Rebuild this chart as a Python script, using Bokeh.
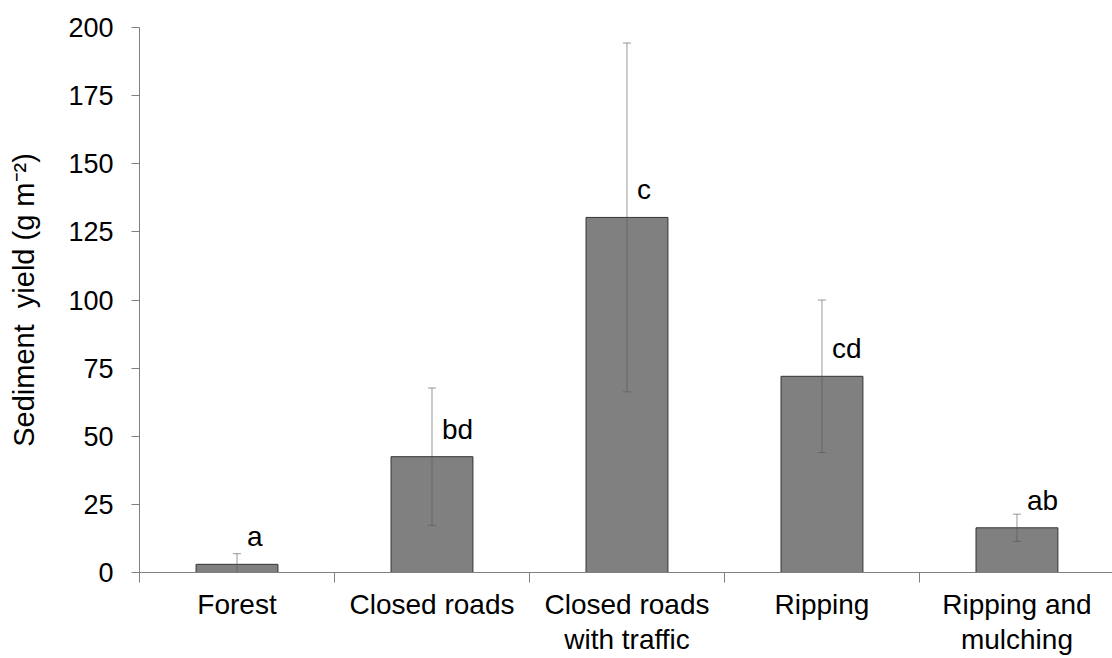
from bokeh.plotting import figure
from bokeh.models import (ColumnDataSource, FixedTicker, Whisker, TeeHead, Range1d)
from bokeh.core.properties import value
from bokeh.embed import file_html
from bokeh.resources import INLINE

categories = ["Forest", "Closed roads", "Closed roads\nwith traffic", "Ripping", "Ripping and\nmulching"]
means = [3.0, 42.5, 130.3, 72.0, 16.4]
errors = [3.9, 25.2, 64.0, 28.0, 5.0]
letters = ["a", "bd", "c", "cd", "ab"]
y_ticks = [0, 25, 50, 75, 100, 125, 150, 175, 200]

centers = [i + 0.5 for i in range(len(categories))]
bounds = [float(i) for i in range(len(categories) + 1)]

src = ColumnDataSource(data=dict(
    x=centers,
    top=means,
    upper=[m + e for m, e in zip(means, errors)],
    lower=[m - e for m, e in zip(means, errors)],
    letter=letters,
))

FONT = "Liberation Sans"

p = figure(width=1112, height=658, x_range=Range1d(0, 4.99), y_range=Range1d(0, 200),
           output_backend="svg", toolbar_location=None,
           min_border_left=139, min_border_right=0, min_border_top=27, min_border_bottom=86)
p.outline_line_color = None
p.xgrid.visible = False
p.ygrid.visible = False
p.background_fill_color = "white"
p.border_fill_color = "white"

p.vbar(x="x", top="top", width=0.42, source=src, fill_color="#808080",
       line_color="#333333", line_width=1)

err_color = "#555555"
wh = Whisker(source=src, base="x", upper="upper", lower="lower",
             line_color=err_color, line_alpha=0.6, line_width=1,
             upper_head=TeeHead(size=8, line_color=err_color, line_alpha=0.6, line_width=1),
             lower_head=TeeHead(size=8, line_color=err_color, line_alpha=0.6, line_width=1))
wh.level = "overlay"
p.add_layout(wh)

p.text(x="x", y="top", text="letter", source=src, x_offset=10, y_offset=-12,
       text_align="left", text_baseline="bottom",
       text_font=value(FONT), text_font_size="28px", text_color="black")

xa = p.xaxis[0]
xa.ticker = FixedTicker(ticks=centers, minor_ticks=bounds)
xa.major_label_overrides = {c: lab for c, lab in zip(centers, categories)}
xa.major_tick_out = 0
xa.major_tick_in = 0
xa.minor_tick_out = 10
xa.minor_tick_in = 0
xa.axis_line_color = "#808080"
xa.minor_tick_line_color = "#808080"
xa.major_label_text_font = FONT
xa.major_label_text_font_size = "28px"
xa.major_label_text_color = "black"
xa.major_label_text_line_height = 1.15
xa.major_label_standoff = 6

ya = p.yaxis[0]
ya.ticker = FixedTicker(ticks=y_ticks)
ya.major_tick_out = 8
ya.major_tick_in = 0
ya.minor_tick_out = 0
ya.minor_tick_in = 0
ya.axis_line_color = "#808080"
ya.major_tick_line_color = "#808080"
ya.major_label_text_font = FONT
ya.major_label_text_font_size = "27px"
ya.major_label_text_color = "black"
ya.major_label_standoff = 18
ya.axis_label = "Sediment\u00a0 yield (g m\u207b\u00b2)"
ya.axis_label_text_font = FONT
ya.axis_label_text_font_size = "29px"
ya.axis_label_text_font_style = "normal"
ya.axis_label_text_color = "black"
ya.axis_label_standoff = 25

open("out.html", "w").write(file_html(p, INLINE))
